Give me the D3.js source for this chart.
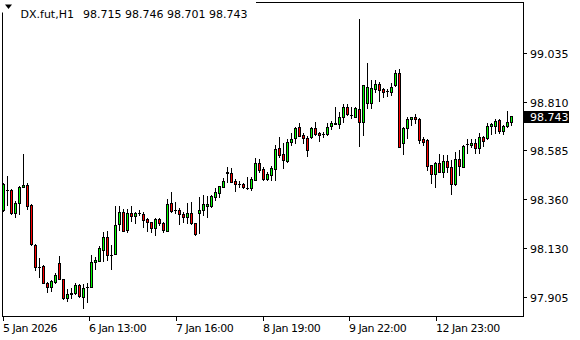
<!DOCTYPE html>
<html>
<head>
<meta charset="utf-8">
<script src="https://cdn.jsdelivr.net/npm/d3@7"></script>
<style>
  body { margin: 0; background: #fff; }
  svg { display: block; font-family: "DejaVu Sans", sans-serif; font-size: 11px; }
  .time-label { letter-spacing: -0.5px; }
</style>
</head>
<body>
<svg id="chart" width="580" height="340"></svg>
<script>
// DX.fut H1 candles (open, high, low, close)
var opens = [98.308,98.400,98.402,98.292,98.339,98.413,98.424,98.333,98.147,98.044,
  98.047,97.967,97.952,97.975,98.060,97.986,97.898,97.916,97.924,97.959,
  97.905,97.949,97.949,98.065,98.072,98.122,98.181,98.099,98.102,98.241,
  98.297,98.215,98.292,98.281,98.295,98.287,98.264,98.250,98.222,98.264,
  98.245,98.212,98.339,98.308,98.308,98.288,98.276,98.292,98.245,98.292,
  98.308,98.327,98.327,98.369,98.388,98.416,98.479,98.478,98.442,98.427,
  98.427,98.411,98.408,98.447,98.524,98.496,98.450,98.470,98.496,98.594,
  98.568,98.536,98.624,98.640,98.691,98.656,98.640,98.648,98.687,98.666,
  98.661,98.659,98.699,98.707,98.707,98.738,98.784,98.748,98.741,98.775,
  98.717,98.805,98.805,98.869,98.893,98.868,98.861,98.857,98.888,98.942,
  98.620,98.687,98.728,98.738,98.728,98.636,98.632,98.516,98.473,98.524,
  98.485,98.536,98.506,98.428,98.543,98.508,98.612,98.609,98.620,98.594,
  98.645,98.640,98.697,98.697,98.725,98.674,98.697,98.715];
var highs = [98.433,98.465,98.407,98.351,98.419,98.568,98.431,98.335,98.148,98.083,
  98.052,97.975,97.983,98.014,98.094,97.987,97.939,97.944,97.970,97.964,
  97.964,97.970,98.099,98.088,98.140,98.207,98.210,98.145,98.326,98.326,
  98.311,98.312,98.326,98.300,98.308,98.300,98.269,98.253,98.269,98.269,
  98.253,98.357,98.392,98.346,98.315,98.300,98.339,98.346,98.248,98.369,
  98.377,98.373,98.377,98.408,98.419,98.455,98.508,98.501,98.450,98.442,
  98.434,98.459,98.459,98.547,98.544,98.506,98.485,98.512,98.609,98.648,
  98.620,98.636,98.663,98.694,98.710,98.663,98.651,98.694,98.717,98.671,
  98.671,98.710,98.722,98.784,98.764,98.800,98.800,98.784,98.784,99.193,
  98.888,98.991,98.911,98.911,98.903,98.873,98.868,98.896,98.957,98.960,
  98.694,98.738,98.741,98.752,98.733,98.645,98.636,98.516,98.532,98.568,
  98.563,98.563,98.540,98.578,98.586,98.609,98.636,98.636,98.636,98.663,
  98.651,98.710,98.710,98.728,98.728,98.702,98.768,98.746];
var lows = [98.303,98.331,98.289,98.276,98.289,98.412,98.312,98.147,98.029,97.998,
  97.968,97.928,97.933,97.967,97.985,97.893,97.886,97.898,97.918,97.905,
  97.851,97.880,97.948,98.032,98.071,98.072,98.075,98.034,98.101,98.215,
  98.210,98.204,98.258,98.246,98.284,98.230,98.212,98.207,98.192,98.238,
  98.204,98.212,98.300,98.292,98.243,98.253,98.248,98.243,98.191,98.202,
  98.284,98.276,98.320,98.354,98.369,98.416,98.439,98.439,98.397,98.413,
  98.408,98.403,98.400,98.447,98.484,98.447,98.447,98.447,98.447,98.555,
  98.501,98.532,98.609,98.617,98.651,98.617,98.558,98.640,98.656,98.629,
  98.645,98.656,98.682,98.705,98.687,98.717,98.748,98.733,98.738,98.605,
  98.656,98.779,98.779,98.857,98.815,98.831,98.837,98.841,98.883,98.600,
  98.568,98.640,98.702,98.710,98.620,98.609,98.493,98.434,98.416,98.485,
  98.459,98.485,98.380,98.424,98.470,98.506,98.571,98.598,98.573,98.573,
  98.605,98.636,98.659,98.666,98.663,98.659,98.694,98.701];
var closes = [98.428,98.400,98.292,98.341,98.413,98.422,98.327,98.148,98.044,98.043,
  97.970,97.952,97.978,98.006,97.986,97.898,97.918,97.924,97.959,97.910,
  97.944,97.950,98.065,98.075,98.130,98.181,98.099,98.097,98.238,98.297,
  98.212,98.292,98.281,98.295,98.295,98.261,98.250,98.222,98.264,98.245,
  98.215,98.334,98.304,98.308,98.288,98.276,98.292,98.245,98.196,98.308,
  98.334,98.335,98.373,98.392,98.419,98.442,98.484,98.439,98.427,98.427,
  98.416,98.411,98.450,98.527,98.493,98.450,98.475,98.501,98.589,98.563,
  98.540,98.624,98.636,98.687,98.651,98.640,98.586,98.687,98.659,98.656,
  98.661,98.694,98.713,98.711,98.738,98.784,98.752,98.748,98.780,98.717,
  98.888,98.877,98.872,98.893,98.865,98.857,98.861,98.877,98.945,98.601,
  98.687,98.728,98.738,98.728,98.632,98.624,98.512,98.473,98.524,98.485,
  98.535,98.508,98.427,98.543,98.512,98.605,98.612,98.620,98.594,98.645,
  98.629,98.697,98.705,98.720,98.675,98.697,98.717,98.743];

// price axis labels
var priceTicks = [99.035, 98.810, 98.585, 98.360, 98.130, 97.905];
// time axis labels and the bar index they sit on
var timeLabels = ["5 Jan 2026", "6 Jan 13:00", "7 Jan 16:00", "8 Jan 19:00", "9 Jan 22:00", "12 Jan 23:00"];
var timeTickBars = [0, 21.5, 43.25, 65, 86.5, 108.25];

var symbol = "DX.fut,H1";

var svg = d3.select("#chart");
var n = closes.length;

// bars are 4px apart, first wick on pixel column 3
var x = d3.scaleLinear().domain([0, n - 1]).range([3, 3 + 4 * (n - 1)]);
var y = d3.scaleLinear().domain([97.905, 99.035]).range([296.7, 53.3]);

var plot = svg.append("g");

// candles
d3.range(n).forEach(function(i) {
  var col = Math.round(x(i));
  var yH = Math.round(y(highs[i])), yL = Math.round(y(lows[i]));
  plot.append("rect")
    .attr("x", col).attr("y", yH)
    .attr("width", 1).attr("height", yL - yH + 1)
    .attr("fill", "#000");

  var top = Math.round(y(Math.max(opens[i], closes[i])));
  var bot = Math.round(y(Math.min(opens[i], closes[i])));
  plot.append("rect")
    .attr("x", col - 1).attr("y", top)
    .attr("width", 3).attr("height", bot - top + 1)
    .attr("fill", "#000");
  if (bot - top >= 2) {
    plot.append("rect")
      .attr("x", col).attr("y", top + 1)
      .attr("width", 1).attr("height", bot - top - 1)
      .attr("fill", closes[i] >= opens[i] ? "#00ff00" : "#ff0000");
  }
});

// frame
svg.append("rect")
  .attr("x", 2.5).attr("y", 2.5)
  .attr("width", 521).attr("height", 314)
  .attr("fill", "none").attr("stroke", "#000");

// header with white background
svg.append("rect").attr("x", 0).attr("y", 0).attr("width", 256).attr("height", 12.5).attr("fill", "#fff");
svg.append("path").attr("d", "M5,4.5 L12,4.5 L8.5,9 Z").attr("fill", "#000");
svg.append("text").attr("x", 20.5).attr("y", 17.5).text(symbol);
svg.append("text").attr("x", 83).attr("y", 17.5)
  .text([opens[n - 1], highs[n - 1], lows[n - 1], closes[n - 1]].map(function(v) { return v.toFixed(3); }).join(" "));

// price axis
priceTicks.forEach(function(v) {
  var ty = Math.round(y(v));
  svg.append("rect").attr("x", 524).attr("y", ty).attr("width", 3).attr("height", 1).attr("fill", "#000");
  svg.append("text").attr("x", 530).attr("y", ty + 4.5).text(v.toFixed(3));
});

// current price box
var cy = Math.round(y(closes[n - 1]));
svg.append("rect").attr("x", 524).attr("y", cy - 5).attr("width", 45).attr("height", 12).attr("fill", "#000");
svg.append("text").attr("x", 530).attr("y", cy + 4.5).attr("fill", "#fff").text(closes[n - 1].toFixed(3));

// time axis
timeTickBars.forEach(function(b, k) {
  var tx = Math.round(x(b));
  svg.append("rect").attr("x", tx).attr("y", 317).attr("width", 1).attr("height", 4).attr("fill", "#000");
  svg.append("text").attr("class", "time-label").attr("x", tx).attr("y", 332).text(timeLabels[k]);
});
</script>
</body>
</html>
